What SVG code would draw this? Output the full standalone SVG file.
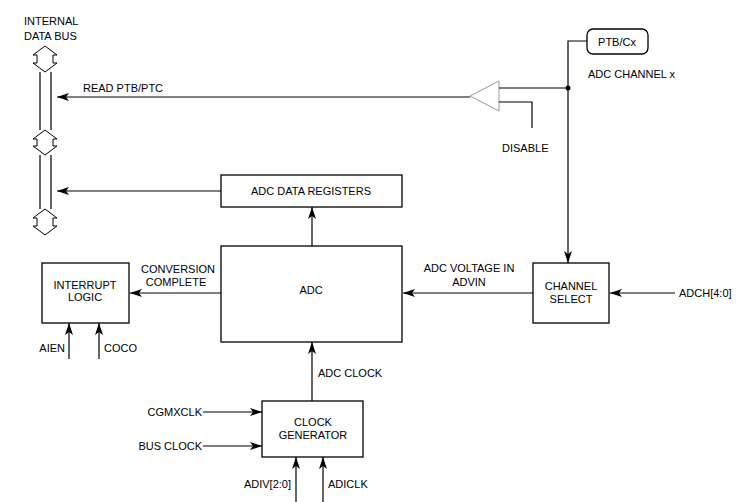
<svg xmlns="http://www.w3.org/2000/svg" width="737" height="502" viewBox="0 0 737 502">
<style>
text{font-family:"Liberation Sans",Arial,sans-serif;font-size:11px;fill:#000}
.box{fill:#fff;stroke:#000;stroke-width:1.3}
.ln{fill:none;stroke:#000;stroke-width:1.2}
.bus{fill:#fff;stroke:#000;stroke-width:1}
.m{text-anchor:middle}
.e{text-anchor:end}
</style>
<defs>
<marker id="ah" viewBox="0 0 12 8" refX="12" refY="4" markerWidth="12" markerHeight="8" markerUnits="userSpaceOnUse" orient="auto">
<path d="M0,0 L12,4 L0,8 L3,4 Z" fill="#000"/>
</marker>
</defs>
<rect width="737" height="502" fill="#fff"/>
<g id="bus">
<text x="24" y="25">INTERNAL</text>
<text x="24" y="40">DATA BUS</text>
<path class="ln" d="M40,72 V130 M51,72 V130 M40,155 V209 M51,155 V209" stroke-width="1"/>
<polygon class="bus" points="45,46 57,55 53,55 53,63 57,63 45,72 33,63 37,63 37,55 33,55"/>
<polygon class="bus" points="45,130 57,139 53,139 53,146 57,146 45,155 33,146 37,146 37,139 33,139"/>
<polygon class="bus" points="45,209 57,218 53,218 53,226 57,226 45,235 33,226 37,226 37,218 33,218"/>
</g>
<g id="ptb">
<rect class="box" x="587" y="29" width="61" height="25" rx="6"/>
<text class="m" x="617" y="46">PTB/Cx</text>
<text x="588" y="78">ADC CHANNEL x</text>
</g>
<g id="buffer">
<polygon points="470,96 499,81 499,111" fill="#fff" stroke="#999" stroke-width="1"/>
<text x="502" y="152">DISABLE</text>
</g>
<g id="dataregs">
<rect class="box" x="221" y="175" width="181" height="32"/>
<text class="m" x="311" y="195">ADC DATA REGISTERS</text>
</g>
<g id="adc">
<rect class="box" x="221" y="246" width="181" height="96"/>
<text class="m" x="311" y="294">ADC</text>
</g>
<g id="interrupt">
<rect class="box" x="42" y="263" width="87" height="60"/>
<text class="m" x="85" y="289">INTERRUPT</text>
<text class="m" x="85" y="301">LOGIC</text>
</g>
<g id="chansel">
<rect class="box" x="533" y="263" width="76" height="60"/>
<text class="m" x="571" y="290">CHANNEL</text>
<text class="m" x="571" y="303">SELECT</text>
</g>
<g id="clockgen">
<rect class="box" x="262" y="401" width="101" height="56"/>
<text class="m" x="313" y="426">CLOCK</text>
<text class="m" x="313" y="439">GENERATOR</text>
</g>
<g id="labels">
<text x="83" y="92">READ PTB/PTC</text>
<text class="m" x="178" y="273">CONVERSION</text>
<text class="m" x="176" y="286">COMPLETE</text>
<text class="m" x="469" y="272">ADC VOLTAGE IN</text>
<text class="m" x="469" y="286">ADVIN</text>
<text x="679" y="297">ADCH[4:0]</text>
<text class="e" x="65" y="352">AIEN</text>
<text x="104" y="352">COCO</text>
<text x="318" y="377">ADC CLOCK</text>
<text class="e" x="202" y="416">CGMXCLK</text>
<text class="e" x="202" y="450">BUS CLOCK</text>
<text class="e" x="291" y="488">ADIV[2:0]</text>
<text x="328" y="488">ADICLK</text>
</g>
<g id="connectors">
<path class="ln" d="M587,41 H568 V263" marker-end="url(#ah)"/>
<path class="ln" d="M568,88 H499"/>
<circle cx="568" cy="88" r="2.5" fill="#000"/>
<path class="ln" d="M470,97 H57" marker-end="url(#ah)"/>
<path class="ln" d="M499,102 H532 V128"/>
<path class="ln" d="M221,191 H57" marker-end="url(#ah)"/>
<path class="ln" d="M312,246 V207" marker-end="url(#ah)"/>
<path class="ln" d="M221,293 H130" marker-end="url(#ah)"/>
<path class="ln" d="M533,293 H403" marker-end="url(#ah)"/>
<path class="ln" d="M675,293 H610" marker-end="url(#ah)"/>
<path class="ln" d="M69,359 V323" marker-end="url(#ah)"/>
<path class="ln" d="M99,359 V323" marker-end="url(#ah)"/>
<path class="ln" d="M312,401 V342" marker-end="url(#ah)"/>
<path class="ln" d="M203,412 H262" marker-end="url(#ah)"/>
<path class="ln" d="M203,446 H262" marker-end="url(#ah)"/>
<path class="ln" d="M296,502 V457" marker-end="url(#ah)"/>
<path class="ln" d="M323,502 V457" marker-end="url(#ah)"/>
</g>
</svg>
